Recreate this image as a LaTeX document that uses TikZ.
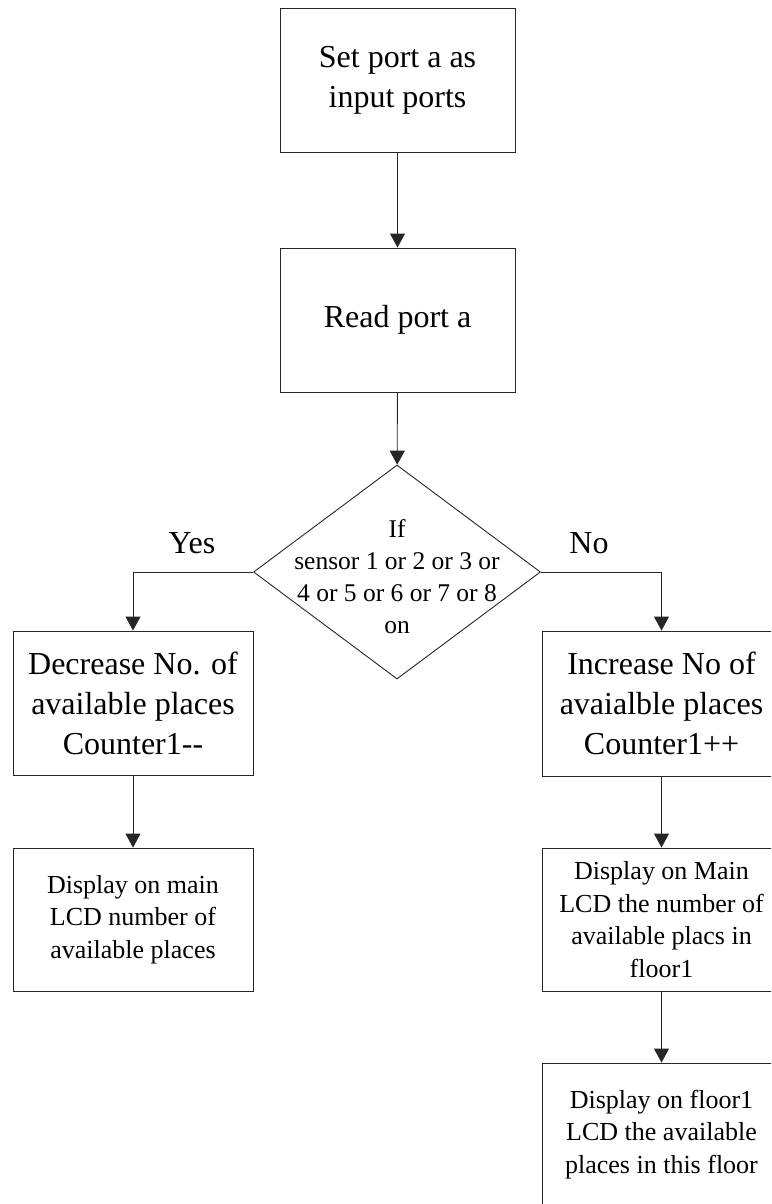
\documentclass[tikz,border=0pt]{standalone}
\usepackage{fontspec}
\setmainfont{Liberation Serif}
\usetikzlibrary{arrows.meta,shapes.geometric}

\tikzset{
  flow/.style={draw=black!85, line width=0.9pt},
  stepbox/.style={flow, rectangle, inner sep=0pt, align=center,
    font=\fontsize{32}{40}\selectfont},
  smallbox/.style={stepbox, font=\fontsize{26}{32.5}\selectfont},
  decision/.style={flow, diamond, inner sep=0pt, minimum width=287pt, minimum height=214pt},
  decisiontext/.style={align=center, inner sep=0pt, font=\fontsize{25.5}{32}\selectfont},
  branch/.style={font=\fontsize{32}{40}\selectfont, anchor=base, inner sep=0pt},
  link/.style={flow, -{Triangle[width=15pt,length=14pt]}},
}

\begin{document}
\begin{tikzpicture}[x=1pt, y=-1pt]
  \useasboundingbox (0,0) rectangle (771,1204);
  \clip (0,0) rectangle (771,1204);

  % main column
  \node[stepbox, minimum width=235pt, minimum height=144pt] (setport) at (397.5,80)
    {Set port a as\\input ports};
  \node[stepbox, minimum width=235pt, minimum height=144pt] (readport) at (397.5,320)
    {Read port a};
  \node[decision] (check) at (397,572) {};
  \node[decisiontext] (checktext) at (397,577)
    {If\\sensor 1 or 2 or 3 or\\4 or 5 or 6 or 7 or 8\\on};

  % left branch
  \node[stepbox, minimum width=240pt, minimum height=144pt] (dec) at (133,703)
    {Decrease No. of\\available places\\Counter1{-}{-}};
  \node[smallbox, minimum width=240pt, minimum height=143pt] (showmain) at (133,919.5)
    {Display on main\\LCD number of\\available places};

  % right branch
  \node[stepbox, minimum width=239pt, minimum height=145pt] (inc) at (661.5,703.5)
    {Increase No of\\avaialble places\\Counter1++};
  \node[smallbox, minimum width=239pt, minimum height=143pt] (showmain2) at (661.5,919.5)
    {Display on Main\\LCD the number of\\available placs in\\floor1};
  \node[smallbox, minimum width=239pt, minimum height=143pt] (showfloor) at (661.5,1134.5)
    {Display on floor1\\LCD the available\\places in this floor};

  % branch labels
  \node[branch] (yes) at (192,553) {Yes};
  \node[branch] (no) at (589,553) {No};

  % connectors
  \draw[link] (setport) -- (readport);
  \draw[link] (readport) -- (check);
  \draw[link] (check.west) -| (dec.north);
  \draw[link] (check.east) -| (inc.north);
  \draw[link] (dec) -- (showmain);
  \draw[link] (inc) -- (showmain2);
  \draw[link] (showmain2) -- (showfloor);
\end{tikzpicture}
\end{document}
